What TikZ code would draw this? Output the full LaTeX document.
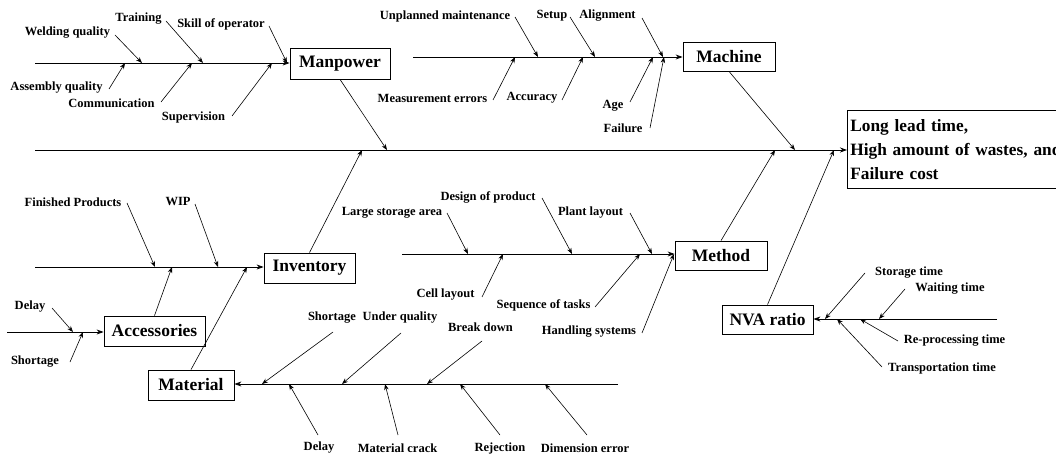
\documentclass[tikz,border=0pt]{standalone}
\usepackage{fontspec}
\setmainfont{Liberation Serif}
\usetikzlibrary{arrows.meta}
\begin{document}
\begin{tikzpicture}[x=1pt,y=-1pt,
  lab/.style={font=\fontsize{12.5}{14}\selectfont\bfseries, inner sep=0pt},
  cat/.style={draw, line width=0.8pt, font=\fontsize{17.5}{20}\selectfont\bfseries, inner sep=0pt},
  spine/.style={-{Stealth[length=7pt,width=5pt]}, line width=0.8pt},
  arr/.style={-{Stealth[length=6pt,width=4.5pt]}, line width=0.6pt}]
\clip (0,0) rectangle (1056,457);
\fill[white] (0,0) rectangle (1056,457);
% category boxes
\node[cat, minimum width=100, minimum height=31] (mp) at (340,63.5) {Manpower};
\node[cat, minimum width=92, minimum height=29] (mc) at (729,56.5) {Machine};
\node[cat, minimum width=91, minimum height=30] (inv) at (309.5,268) {Inventory};
\node[cat, minimum width=101, minimum height=30] (acc) at (154.5,331) {Accessories};
\node[cat, minimum width=86, minimum height=30] (mat) at (191,385) {Material};
\node[cat, minimum width=92, minimum height=29] (met) at (721,255.5) {Method};
\node[cat, minimum width=91, minimum height=29] (nva) at (767.5,319.5) {NVA ratio};
\node[draw, line width=0.8pt, anchor=north west, minimum height=78, text width=224, inner xsep=3pt, inner ysep=0pt,
  align=left, font=\fontsize{17.3}{24}\selectfont\bfseries] (eff) at (847,110)
  {Long lead time,\\High amount of wastes, and\\Failure cost};
% spines
\coordinate (mainS) at (35,150);
\draw[spine] (mainS) -- (mainS -| eff.west);
\coordinate (mpS) at (35,63);   \draw[spine] (mpS) -- (mpS -| mp.west);
\coordinate (mcS) at (413,57);  \draw[spine] (mcS) -- (mcS -| mc.west);
\coordinate (invS) at (35,267); \draw[spine] (invS) -- (invS -| inv.west);
\coordinate (accS) at (7,332);  \draw[spine] (accS) -- (accS -| acc.west);
\coordinate (matS) at (618,384);\draw[spine] (matS) -- (matS -| mat.east);
\coordinate (metS) at (402,254);\draw[spine] (metS) -- (metS -| met.west);
\coordinate (nvaS) at (997,319);\draw[spine] (nvaS) -- (nvaS -| nva.east);
% categories into main / sub spines
\coordinate (mpE) at (387,150);  \draw[arr] (mp.south) -- (mpE);
\coordinate (mcE) at (795,150);  \draw[arr] (mc.south) -- (mcE);
\coordinate (invE) at (362,150); \draw[arr] (inv.north) -- (invE);
\coordinate (metE) at (775,150); \draw[arr] (met.north) -- (metE);
\coordinate (nvaE) at (834,150); \draw[arr] (nva.north) -- (nvaE);
\coordinate (accE) at (172,267); \draw[arr] (acc.north) -- (accE);
\coordinate (matE) at (247,267); \draw[arr] (mat.north) -- (matE);
% labels
\node[lab] (l1) at (67.5,33) {Welding quality};
\node[lab] (l2) at (138.5,19) {Training};
\node[lab] (l3) at (221,24) {Skill of operator};
\node[lab] (l4) at (56.5,88) {Assembly quality};
\node[lab] (l5) at (111.5,103) {Communication};
\node[lab] (l6) at (193.5,117) {Supervision};
\node[lab] (l7) at (445,16) {Unplanned maintenance};
\node[lab] (l8) at (552,16) {Setup};
\node[lab] (l9) at (607.5,16) {Alignment};
\node[lab] (l10) at (432.5,98) {Measurement errors};
\node[lab] (l11) at (532,98) {Accuracy};
\node[lab] (l12) at (613,106) {Age};
\node[lab] (l13) at (623,128) {Failure};
\node[lab] (l14) at (73,202) {Finished Products};
\node[lab] (l15) at (178,202) {WIP};
\node[lab] (l16) at (30,307) {Delay};
\node[lab] (l17) at (35,362) {Shortage};
\node[lab] (l18) at (332,318) {Shortage};
\node[lab] (l19) at (400,318) {Under quality};
\node[lab] (l20) at (480.5,327) {Break down};
\node[lab] (l21) at (319,448) {Delay};
\node[lab] (l22) at (397.5,448) {Material crack};
\node[lab] (l23) at (500,448) {Rejection};
\node[lab] (l24) at (585,448) {Dimension error};
\node[lab] (l25) at (392,213) {Large storage area};
\node[lab] (l26) at (488,197) {Design of product};
\node[lab] (l27) at (590.5,213) {Plant layout};
\node[lab] (l28) at (445.5,295) {Cell layout};
\node[lab] (l29) at (543.5,305) {Sequence of tasks};
\node[lab] (l30) at (589,332) {Handling systems};
\node[lab] (l31) at (909,273) {Storage time};
\node[lab] (l32) at (950,289) {Waiting time};
\node[lab] (l33) at (954.5,341) {Re-processing time};
\node[lab] (l34) at (942,368) {Transportation time};
% cause arrows
\foreach \n/\sx/\sy/\ex/\ey in {
  1/115/35/142/63, 2/166/21/203/63, 3/269/26/287/63,
  4/109/89/125/63, 5/161/102/192/63, 6/232/116/272/63,
  7/515/17/538/57, 8/570/17/595/57, 9/642/18/663/57,
  10/493/100/515/57, 11/562/100/583/57, 12/630/102/653/57, 13/650/128/664/57,
  14/127/203/155/267, 15/195/204/218/267,
  16/52/308/73/332, 17/70/362/83/332,
  18/333/332/262/384, 19/401/333/342/384, 20/482/341/427/384,
  21/318/435/289/384, 22/398/435/385/384, 23/500/435/460/384, 24/587/435/545/384,
  25/447/213/468/254, 26/542/198/572/254, 27/630/213/652/254,
  28/482/297/503/254, 29/595/307/640/254, 30/642/333/674/254,
  31/865/273/825/319, 32/905/289/879/319, 33/898/341/860/319, 34/882/367/837/319}
{
  \coordinate (s\n) at (\sx,\sy);
  \coordinate (e\n) at (\ex,\ey);
  \draw[arr] (s\n) -- (e\n);
}
\end{tikzpicture}
\end{document}
